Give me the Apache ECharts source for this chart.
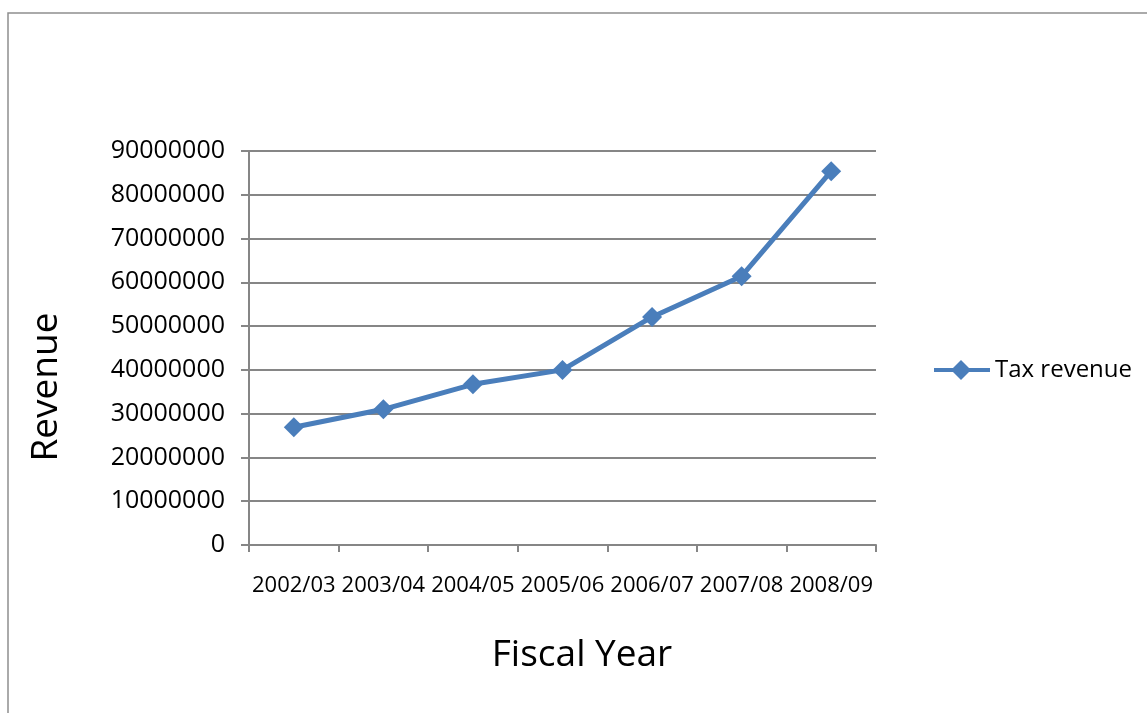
<!DOCTYPE html>
<html>
<head>
<meta charset="utf-8">
<script src="https://cdn.jsdelivr.net/npm/echarts@6/dist/echarts.min.js"></script>
<style>
  html, body { margin: 0; padding: 0; background: #fff; }
  #chart { width: 1147px; height: 713px; }
</style>
</head>
<body>
<div id="chart"></div>
<script>
// Fiscal years on the category axis
const fiscalYears = ['2002/03', '2003/04', '2004/05', '2005/06', '2006/07', '2007/08', '2008/09'];
// Tax revenue per fiscal year
const taxRevenue = [26900000, 31000000, 36700000, 40000000, 52100000, 61400000, 85400000];
// Value axis range
const yMin = 0;
const yMax = 90000000;
const yStep = 10000000;

const FONT = '"Open Sans", "Liberation Sans", sans-serif';
const GRID_GRAY = '#868686';
const BLUE = '#4a7ebb';

// legend key: a short line with a diamond marker on it
const LEGEND_ICON = 'path://M0,8 L19,8 L27,0 L35,8 L56,8 L56,12 L35,12 L27,20 L19,12 L0,12 Z';

const chart = echarts.init(document.getElementById('chart'), null, { renderer: 'canvas' });

chart.setOption({
  backgroundColor: '#ffffff',
  animation: false,
  graphic: [
    {
      // outer frame of the chart area
      type: 'rect',
      shape: { x: 8, y: 13, width: 1160, height: 730 },
      style: { fill: 'none', stroke: '#8e8e8e', lineWidth: 1.5 },
      silent: true
    },
    {
      // value axis title
      type: 'text',
      x: 46,
      y: 387,
      rotation: Math.PI / 2,
      style: {
        text: 'Revenue',
        font: '37px ' + FONT,
        fill: '#000',
        align: 'center',
        verticalAlign: 'middle'
      },
      silent: true
    },
    {
      // category axis title
      type: 'text',
      x: 582,
      y: 655,
      style: {
        text: 'Fiscal Year',
        font: '37px ' + FONT,
        fill: '#000',
        align: 'center',
        verticalAlign: 'middle'
      },
      silent: true
    }
  ],
  grid: { left: 249, right: 271, top: 151, bottom: 168, containLabel: false },
  legend: {
    left: 929,
    top: 353,
    orient: 'vertical',
    itemWidth: 56,
    itemHeight: 20,
    textStyle: { fontFamily: FONT, fontSize: 24, color: '#000' },
    data: [{ name: 'Tax revenue', icon: LEGEND_ICON }]
  },
  xAxis: {
    type: 'category',
    data: fiscalYears,
    boundaryGap: true,
    axisLine: { lineStyle: { color: GRID_GRAY, width: 2 } },
    axisTick: { show: true, length: 7, alignWithLabel: false, lineStyle: { color: GRID_GRAY, width: 2 } },
    axisLabel: { interval: 0, margin: 30, fontFamily: FONT, fontSize: 22, color: '#000' },
    splitLine: { show: false }
  },
  yAxis: {
    type: 'value',
    min: yMin,
    max: yMax,
    interval: yStep,
    axisLine: { show: true, lineStyle: { color: GRID_GRAY, width: 2 } },
    axisTick: { show: true, length: 8, lineStyle: { color: GRID_GRAY, width: 2 } },
    axisLabel: {
      margin: 24,
      fontFamily: FONT,
      fontSize: 25,
      color: '#000',
      formatter: (v) => String(v)
    },
    splitLine: { show: true, lineStyle: { color: GRID_GRAY, width: 2 } }
  },
  series: [{
    name: 'Tax revenue',
    type: 'line',
    data: taxRevenue,
    symbol: 'diamond',
    symbolSize: 20,
    showAllSymbol: true,
    itemStyle: { color: BLUE },
    lineStyle: { color: BLUE, width: 5 },
    emphasis: { disabled: true }
  }]
});
</script>
</body>
</html>
